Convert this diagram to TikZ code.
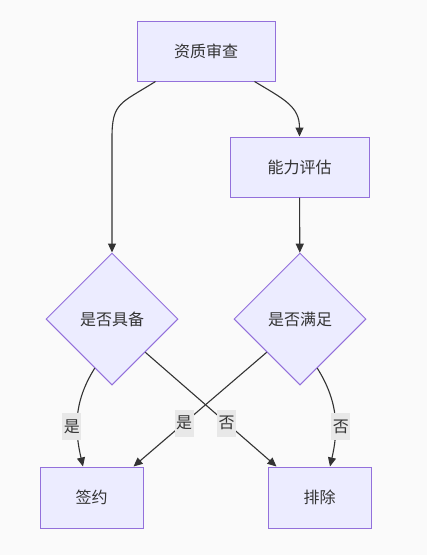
\documentclass[tikz,border=0pt]{standalone}
\usepackage{fontspec}
\setmainfont{Noto Sans CJK SC}
\usetikzlibrary{positioning,arrows.meta,calc,shapes.geometric}

\definecolor{boxfill}{HTML}{ECECFF}
\definecolor{boxline}{HTML}{9370DB}
\definecolor{ink}{HTML}{333333}
\definecolor{lblfill}{HTML}{E8E8E8}
\definecolor{bg}{HTML}{FAFAFA}

\begin{document}
\begin{tikzpicture}[x=1pt,y=-1pt,
    every node/.style={font=\fontsize{16}{19}\selectfont, text=ink},
    stepbox/.style={draw=boxline, fill=boxfill, line width=1pt, minimum height=60pt, inner sep=0pt},
    choice/.style={diamond, aspect=1, draw=boxline, fill=boxfill, line width=1pt, minimum width=132pt, minimum height=132pt, inner sep=0pt},
    flow/.style={draw=ink, line width=1.1pt, -{Triangle[length=9pt,width=8pt]}},
    answer/.style={fill=lblfill, inner xsep=1.5pt, inner ysep=0pt, minimum height=27pt}
  ]
    % Achtergrond
    \useasboundingbox[fill=bg] (0,0) rectangle (427,555);

    % Stappen
    \node[stepbox, minimum width=138pt] (check) at (206,51) {资质审查};
    \node[stepbox, minimum width=139pt] (assess) at (299.5,167) {能力评估};

    % Beslissingen
    \node[choice] (have) at (112,319) {是否具备};
    \node[choice] (meet) at (300,319) {是否满足};

    % Uitkomsten
    \node[stepbox, minimum width=103pt, minimum height=61pt] (sign) at (91.5,497.5) {签约};
    \node[stepbox, minimum width=103pt, minimum height=61pt] (drop) at (319.5,497.5) {排除};

    % Verbindingen
    \draw[flow] ([xshift=19pt]check.south west) .. controls +(-35,22) and +(0,-35) .. ($(have.north)+(0,-115)$) -- (have.north);
    \draw[flow] ([xshift=-21pt]check.south east) .. controls +(30,18) and +(0,-30) .. (assess.north);
    \draw[flow] (assess) -- (meet);

    \draw[flow] ($(have.south)!0.26!(have.west)$) .. controls +(-22,35) and +(-8,-35) .. ([xshift=-8.5pt]sign.north)
        node[answer, pos=0.6, xshift=-5.5pt] {是};
    \draw[flow] ($(have.east)!0.5!(have.south)$) -- ([xshift=9pt]drop.north west)
        node[answer, pos=0.62] {否};
    \draw[flow] ($(meet.west)!0.5!(meet.south)$) -- ([xshift=-10pt]sign.north east)
        node[answer, pos=0.62] {是};
    \draw[flow] ($(meet.south)!0.26!(meet.east)$) .. controls +(22,35) and +(8,-35) .. ([xshift=10.5pt]drop.north)
        node[answer, pos=0.6, xshift=5.5pt] {否};
\end{tikzpicture}
\end{document}
